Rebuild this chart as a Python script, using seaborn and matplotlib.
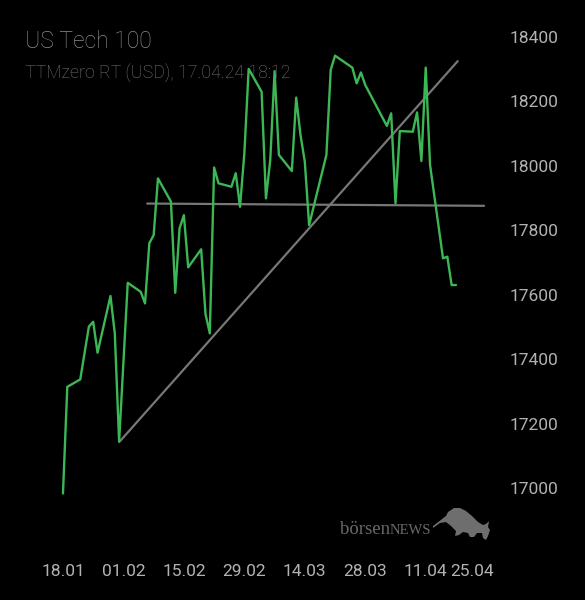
"""US Tech 100 daily line with hand-drawn support/trend lines."""
import matplotlib
matplotlib.use('Agg')
import matplotlib.pyplot as plt
from matplotlib.patches import Polygon
import pandas as pd
import seaborn as sns

# ======================================================================================================================
# Data (days after 18.01.2024, price)
# ======================================================================================================================
DAYS = [0, 1, 4, 6, 7, 8, 11, 12, 13, 15, 18, 19, 20, 21, 22, 25, 26, 27, 28, 29,
        32, 33, 34, 35, 36, 39, 40, 41, 42, 43, 46, 47, 48, 49, 50, 53, 54, 55, 56, 57,
        61, 62, 63, 67, 68, 69, 70, 75, 76, 77, 78, 81, 82, 83, 84, 85, 88, 89, 90, 91]
PRICES = [16983, 17314, 17337, 17501, 17516, 17420, 17596, 17480, 17144, 17637,
          17609, 17573, 17760, 17785, 17961, 17889, 17606, 17806, 17847, 17685,
          17741, 17540, 17480, 17995, 17946, 17935, 17977, 17873, 18039, 18301,
          18230, 17899, 18018, 18294, 18034, 17984, 18212, 18096, 18013, 17816,
          18034, 18298, 18342, 18305, 18256, 18290, 18251, 18124, 18163, 17884,
          18108, 18106, 18166, 18015, 18305, 18003, 17713, 17718, 17630, 17630]

SUPPORT_DAYS = [19.5, 97.5]
SUPPORT_PRICES = [17883, 17876]
TREND_DAYS = [13.05, 91.4]
TREND_PRICES = [17143, 18325]

X_TICKS = [0, 14, 28, 42, 56, 70, 84, 94.8]
X_LABELS = ['18.01', '01.02', '15.02', '29.02', '14.03', '28.03', '11.04', '25.04']
Y_TICKS = [17000, 17200, 17400, 17600, 17800, 18000, 18200, 18400]

DATA = pd.DataFrame({'day': DAYS, 'price': PRICES})

# ======================================================================================================================
# Plot
# ======================================================================================================================
sns.set_theme(style='dark', rc={'axes.facecolor': 'black', 'figure.facecolor': 'black'})
plt.rcParams['font.family'] = ['Roboto', 'DejaVu Sans']

fig = plt.figure(figsize=(5.85, 6.0), dpi=100)
ax = fig.add_axes([40 / 585, 55 / 600, 460 / 585, 525 / 600])

ax.plot(SUPPORT_DAYS, SUPPORT_PRICES, color='#777777', lw=1.6)
ax.plot(TREND_DAYS, TREND_PRICES, color='#777777', lw=1.6)
sns.lineplot(x='day', y='price', data=DATA, ax=ax, color='#3cb755', lw=1.7)

ax.set_xlim(-5.32, 101.2)
ax.set_ylim(16823, 18452.8)
ax.set_xticks(X_TICKS)
ax.set_xticklabels(X_LABELS)
ax.set_yticks(Y_TICKS)
ax.yaxis.tick_right()
ax.tick_params(axis='x', length=0, pad=14, labelsize=12.5, labelcolor='#b2b2b2')
ax.tick_params(axis='y', length=0, pad=7, labelsize=12.5, labelcolor='#b2b2b2')
for lab in ax.get_yticklabels():
    lab.set_horizontalalignment('left')
ax.set_xlabel('')
ax.set_ylabel('')
ax.grid(False)
for s in ax.spines.values():
    s.set_visible(False)

fig.text(25 / 585, 1 - 47.5 / 600, 'US Tech 100', color='#8c8c8c', fontsize=16.5, fontweight='light',
         va='baseline')
fig.text(25 / 585, 1 - 77.5 / 600, 'TTMzero RT (USD), 17.04.24 18:12', color='#767676', fontsize=12.8,
         fontweight='light', va='baseline')

# logo
fig.text(340 / 585, 1 - 534 / 600, 'börsen', color='#6a6a6a', fontsize=13.5, family='Liberation Serif',
         va='baseline')
fig.text(390 / 585, 1 - 534 / 600, 'NEWS', color='#6a6a6a', fontsize=10.5, family='Liberation Serif',
         va='baseline')
bull = [(433, 526), (446, 516), (448, 512), (454, 508), (460, 508), (466, 511), (472, 516), (478, 522),
        (483, 525), (486, 524), (489, 521), (488, 527), (490, 530), (488, 536), (486, 540), (483, 538),
        (482, 533), (477, 533), (474, 537), (470, 537), (468, 533), (463, 532), (459, 535), (455, 536),
        (456, 531), (451, 526), (446, 522), (440, 523), (433, 528)]
fig.patches.append(Polygon([(x / 585, 1 - y / 600) for x, y in bull], closed=True, transform=fig.transFigure,
                           facecolor='#6e6e6e', edgecolor='none'))

fig.savefig('out.png', dpi=100, facecolor='black')
